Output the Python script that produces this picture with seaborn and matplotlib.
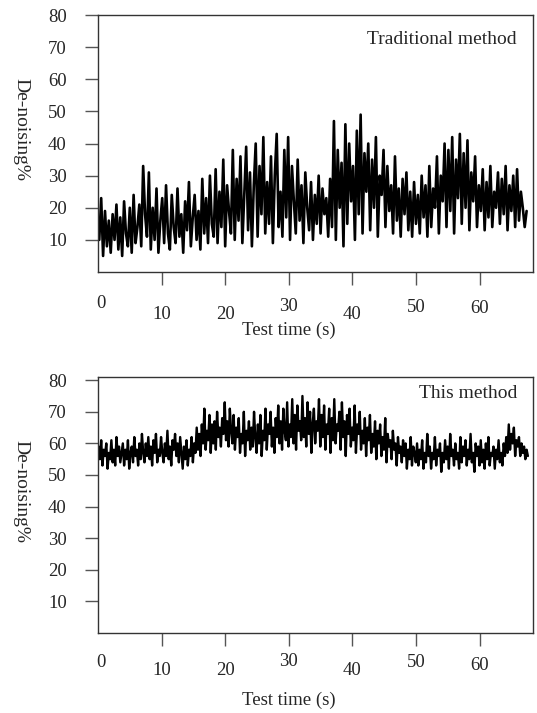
import numpy as np
import pandas as pd
import matplotlib
matplotlib.use("Agg")
import matplotlib.pyplot as plt
import matplotlib.transforms as mtransforms
import seaborn as sns

# valores (De-noising %)
tradicional = [
    10, 23, 5, 19, 8, 16, 6, 18, 10, 21,
    7, 17, 5, 22, 12, 8, 20, 6, 24, 9,
    14, 21, 8, 33, 18, 11, 31, 7, 20, 10,
    26, 6, 16, 23, 9, 27, 12, 7, 24, 14,
    9, 26, 11, 18, 6, 22, 13, 28, 8, 17,
    24, 10, 19, 7, 29, 12, 23, 9, 30, 15,
    11, 32, 9, 25, 14, 35, 8, 27, 19, 12,
    38, 10, 29, 16, 36, 9, 24, 39, 13, 31,
    8, 27, 40, 11, 33, 18, 42, 12, 28, 15,
    36, 9, 30, 43, 14, 25, 11, 38, 17, 42,
    10, 33, 22, 12, 35, 16, 27, 9, 31, 20,
    13, 28, 10, 24, 15, 30, 12, 26, 18, 23,
    11, 29, 14, 47, 10, 38, 20, 34, 8, 46,
    15, 40, 22, 33, 10, 44, 18, 49, 12, 37,
    25, 40, 13, 35, 20, 42, 11, 30, 24, 38,
    14, 33, 19, 27, 12, 36, 16, 26, 11, 29,
    18, 31, 13, 25, 11, 28, 15, 24, 12, 30,
    17, 27, 11, 33, 14, 26, 20, 36, 12, 30,
    22, 40, 14, 38, 19, 42, 12, 35, 23, 43,
    15, 37, 20, 41, 13, 31, 22, 36, 14, 27,
    19, 32, 13, 28, 17, 33, 14, 25, 20, 31,
    15, 29, 18, 33, 13, 27, 19, 30, 14, 32,
    16, 25, 20, 14, 19,
]

este_metodo = [
    59, 55, 61, 53, 58, 56, 60, 52, 57, 55,
    61, 54, 58, 53, 62, 56, 59, 54, 57, 60,
    53, 58, 55, 61, 52, 57, 59, 54, 62, 56,
    58, 53, 60, 55, 63, 57, 54, 60, 56, 62,
    55, 59, 53, 61, 57, 63, 54, 58, 56, 62,
    57, 54, 60, 56, 64, 55, 59, 53, 61, 58,
    63, 56, 60, 54, 62, 57, 52, 59, 55, 61,
    53, 58, 56, 62, 54, 60, 57, 65, 58, 63,
    56, 66, 60, 71, 58, 64, 61, 69, 57, 66,
    60, 67, 58, 70, 62, 65, 59, 68, 63, 73,
    61, 67, 59, 71, 64, 60, 69, 58, 65, 62,
    68, 57, 63, 60, 70, 56, 64, 61, 67, 58,
    65, 59, 70, 62, 57, 66, 60, 69, 56, 64,
    61, 71, 58, 66, 63, 70, 59, 65, 57, 68,
    62, 72, 60, 67, 58, 71, 64, 61, 73, 59,
    66, 62, 74, 60, 69, 58, 72, 64, 67, 61,
    75, 62, 68, 59, 73, 63, 70, 57, 66, 71,
    60, 67, 64, 74, 59, 69, 62, 72, 58, 66,
    63, 71, 57, 68, 61, 74, 60, 66, 64, 70,
    58, 73, 62, 67, 56, 69, 63, 71, 59, 65,
    61, 72, 57, 66, 63, 70, 58, 64, 60, 68,
    56, 65, 61, 69, 57, 63, 59, 67, 55, 64,
    60, 66, 56, 62, 58, 68, 54, 63, 59, 61,
    55, 64, 58, 60, 53, 62, 57, 59, 54, 61,
    56, 60, 52, 58, 55, 62, 53, 59, 57, 54,
    60, 53, 58, 55, 61, 52, 57, 54, 63, 56,
    59, 52, 57, 55, 62, 53, 58, 56, 60, 51,
    57, 54, 61, 55, 59, 52, 63, 56, 58, 53,
    60, 55, 57, 52, 62, 54, 59, 56, 61, 53,
    58, 55, 63, 54, 57, 51, 60, 56, 59, 53,
    61, 54, 58, 52, 60, 55, 62, 53, 57, 56,
    59, 52, 58, 55, 61, 54, 57, 53, 60, 56,
    62, 57, 66, 58, 63, 60, 65, 56, 61, 59,
    62, 56, 60, 57, 59, 55, 58, 56,
]

xticks = [0, 10, 20, 30, 40, 50, 60]
yticks = [10, 20, 30, 40, 50, 60, 70, 80]

sns.set_style("ticks")
plt.rcParams['font.family'] = ['Liberation Serif', 'DejaVu Serif']

fig = plt.figure(figsize=(5.37, 7.13), dpi=100)
ax1 = fig.add_axes([0.1825, 0.6185, 0.81, 0.3604])
ax2 = fig.add_axes([0.1825, 0.1122, 0.81, 0.3590])

paineis = [
    (ax1, tradicional, (0.2, 67.4), 80, "Traditional method", 0.903,
     [31, 42, 42, 34, 42, 35, 36], 58, 1.9),
    (ax2, este_metodo, (0.1, 67.6), 81, "This method", 0.9375,
     [29, 37, 37, 28, 37, 29, 32], 67, 1.7),
]

for ax, valores, (t0, t1), ytop, titulo, ytit, desloc, desloc_label, lw in paineis:
    df = pd.DataFrame({
        "tempo": np.linspace(t0, t1, len(valores)),
        "valor": valores,
    })
    sns.lineplot(data=df, x="tempo", y="valor", ax=ax, color="black",
                 linewidth=lw, estimator=None)

    ax.set_xlim(0, 68.4)
    ax.set_ylim(0, ytop)
    ax.set_yticks(yticks)
    ax.set_yticklabels([str(v) for v in yticks], fontsize=13.5)
    ax.tick_params(axis='y', length=9.5, width=1, color='#555', pad=13)

    # rotulos do eixo x em alturas diferentes, como no original
    ax.set_xticks(xticks[1:])
    ax.set_xticklabels([])
    ax.tick_params(axis='x', length=9.5, width=1, color='#555')
    trans = ax.get_xaxis_transform()
    for x, dy in zip(xticks, desloc):
        off = mtransforms.ScaledTranslation(0, -dy / 100, fig.dpi_scale_trans)
        ax.text(x + (0.5 if x == 0 else 0), 0, str(x), transform=trans + off,
                ha='center', va='center', fontsize=13.5)
    off = mtransforms.ScaledTranslation(0, -desloc_label / 100, fig.dpi_scale_trans)
    ax.text(30, 0, "Test time (s)", transform=trans + off,
            ha='center', va='center', fontsize=13.5)

    ax.set_xlabel("")
    ax.set_ylabel("De-noising%", rotation=270, fontsize=14, va='center')
    ax.yaxis.set_label_coords(-0.177, 0.553)

    for s in ax.spines.values():
        s.set_visible(True)
        s.set_color('#333')
        s.set_linewidth(1)

    ax.text(0.963, ytit, titulo, transform=ax.transAxes, ha='right',
            va='center', fontsize=14)

fig.savefig("out.png", dpi=100)
plt.close(fig)
